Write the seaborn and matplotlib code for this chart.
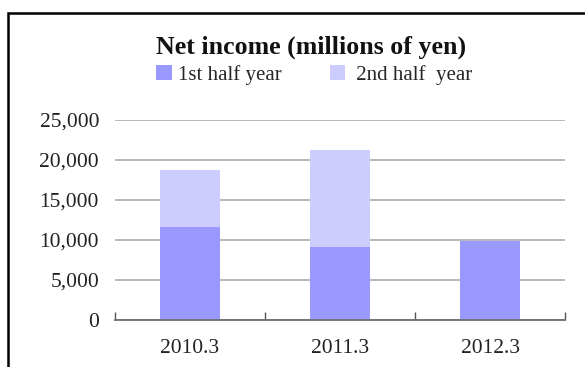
import matplotlib
matplotlib.use("Agg")
import matplotlib.pyplot as plt
import matplotlib.patches as mpatches
from matplotlib.ticker import FuncFormatter, FixedLocator
import seaborn as sns
import pandas as pd

# Net income per fiscal year, split into half years (millions of yen)
periods = ["2010.3", "2011.3", "2012.3"]
first_half = [11600, 9100, 9900]
second_half = [7150, 12150, 0]
series_labels = ["1st half year", " 2nd half  year"]
title = "Net income (millions of yen)"

color_first = "#9999FF"
color_second = "#CCCCFF"

sns.set_theme(style="white")
plt.rcParams["font.family"] = ["Liberation Serif", "DejaVu Serif"]

df = pd.DataFrame({
    "period": periods,
    "first": first_half,
    "total": [a + b for a, b in zip(first_half, second_half)],
})

fig = plt.figure(figsize=(5.85, 3.67), dpi=100)
ax = fig.add_axes([115 / 585, 47 / 367, 450 / 585, 200 / 367])

# stacked bars: full-year total underneath, first half drawn over it
sns.barplot(data=df, x="period", y="total", color=color_second, width=0.4,
            saturation=1, ax=ax, zorder=2)
sns.barplot(data=df, x="period", y="first", color=color_first, width=0.4,
            saturation=1, ax=ax, zorder=3)
for p in ax.patches:
    p.set_edgecolor("none")
    p.set_linewidth(0)

ax.set_xlim(-0.5, 2.5)
ax.set_ylim(0, 25000)
ax.set_yticks([0, 5000, 10000, 15000, 20000, 25000])
ax.yaxis.set_major_formatter(FuncFormatter(lambda v, _: f"{int(v):,}"))
ax.yaxis.grid(True, color="#a6a6a6", linewidth=1.1, zorder=0)
ax.set_axisbelow(True)
ax.set_xlabel("")
ax.set_ylabel("")

for side in ["top", "right", "left"]:
    ax.spines[side].set_visible(False)
ax.spines["bottom"].set_color("#6e6e6e")
ax.spines["bottom"].set_linewidth(1.3)
ax.spines["bottom"].set_zorder(4)

# category separators as inward minor ticks, labels at bar centers
ax.xaxis.set_minor_locator(FixedLocator([-0.5, 0.5, 1.5, 2.5]))
ax.tick_params(axis="x", which="minor", direction="in", length=6, width=1,
               color="#555555", bottom=True)
ax.tick_params(axis="x", which="major", length=0, pad=14, labelsize=15.5,
               labelcolor="#222222")
ax.tick_params(axis="y", length=0, pad=11.5, labelsize=15.5, labelcolor="#222222")

fig.text(311 / 585, 1 - 54 / 367, title, ha="center", va="baseline",
         fontsize=18.6, fontweight="bold", color="#111111")

handles = [mpatches.Patch(facecolor=color_first, edgecolor="none"),
           mpatches.Patch(facecolor=color_second, edgecolor="none")]
fig.legend(handles, series_labels, ncol=2, frameon=False, fontsize=15,
           loc="center left", bbox_to_anchor=(156 / 585, 1 - 75 / 367),
           handlelength=0.75, handleheight=0.75, handletextpad=0.3,
           columnspacing=2.3, borderaxespad=0, borderpad=0)

# outer frame, running off the right and bottom edges
fig.patches.append(mpatches.Rectangle((8 / 585, -0.1), 1.2, 1.1 - 13 / 367,
                                      transform=fig.transFigure, fill=False,
                                      edgecolor="black", linewidth=1.8,
                                      zorder=10))

fig.savefig("out.png", dpi=100)
